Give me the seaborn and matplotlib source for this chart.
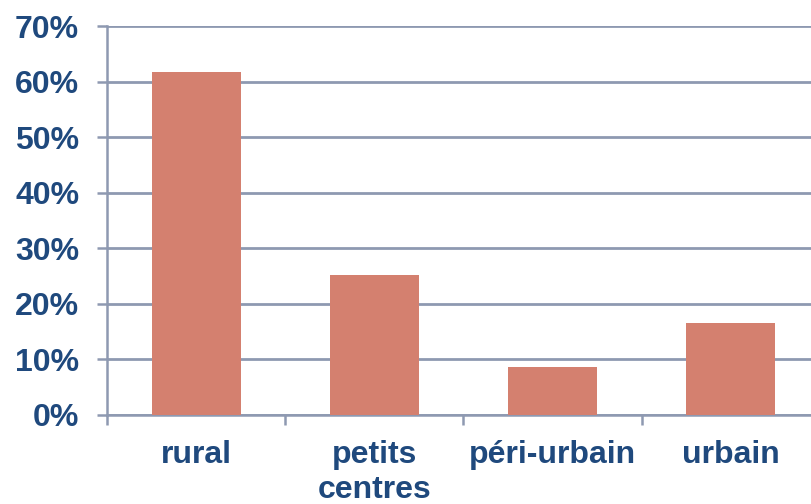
import matplotlib
matplotlib.use("Agg")
import matplotlib.pyplot as plt
import seaborn as sns
import pandas as pd
from matplotlib.ticker import FuncFormatter, FixedLocator

categories = ["rural", "petits\ncentres", "péri-urbain", "urbain"]
values = [0.617, 0.252, 0.086, 0.165]
yticks = [0.0, 0.1, 0.2, 0.3, 0.4, 0.5, 0.6, 0.7]

sns.set_theme(style="white")
plt.rcParams["font.family"] = ["Liberation Sans", "DejaVu Sans"]

text_color = "#1F497D"
grid_color = "#8E99B1"
bar_color = "#D4806F"

df = pd.DataFrame({"zone": categories, "part": values})

fig = plt.figure(figsize=(8.12, 5.04), dpi=100)
ax = fig.add_axes([107 / 812, 89 / 504, 713 / 812, 389 / 504])

sns.barplot(data=df, x="zone", y="part", color=bar_color, width=0.5,
            saturation=1, ax=ax, zorder=3, linewidth=0)

ax.set_xlim(-0.5, 3.5)
ax.set_ylim(0, 0.7)
ax.set_yticks(yticks)
ax.yaxis.set_major_formatter(FuncFormatter(lambda v, p: f"{round(v * 100)}%"))
ax.grid(axis="y", color=grid_color, linewidth=2, zorder=0)
ax.set_axisbelow(True)

for s in ["top", "right"]:
    ax.spines[s].set_visible(False)
for s in ["left", "bottom"]:
    ax.spines[s].set_color(grid_color)
    ax.spines[s].set_linewidth(1.8)

ax.set_xlabel("")
ax.set_ylabel("")

ax.tick_params(axis="y", which="major", direction="out", length=7, width=1.8,
               color=grid_color, pad=13, labelsize=23, labelcolor=text_color, left=True)
ax.tick_params(axis="x", which="major", length=0, pad=18, labelsize=23,
               labelcolor=text_color)
ax.xaxis.set_minor_locator(FixedLocator([-0.5, 0.5, 1.5, 2.5, 3.5]))
ax.tick_params(axis="x", which="minor", direction="out", length=7, width=1.8,
               color=grid_color, bottom=True)

for lab in ax.get_xticklabels() + ax.get_yticklabels():
    lab.set_fontweight("bold")

fig.savefig("out.png", dpi=100)
